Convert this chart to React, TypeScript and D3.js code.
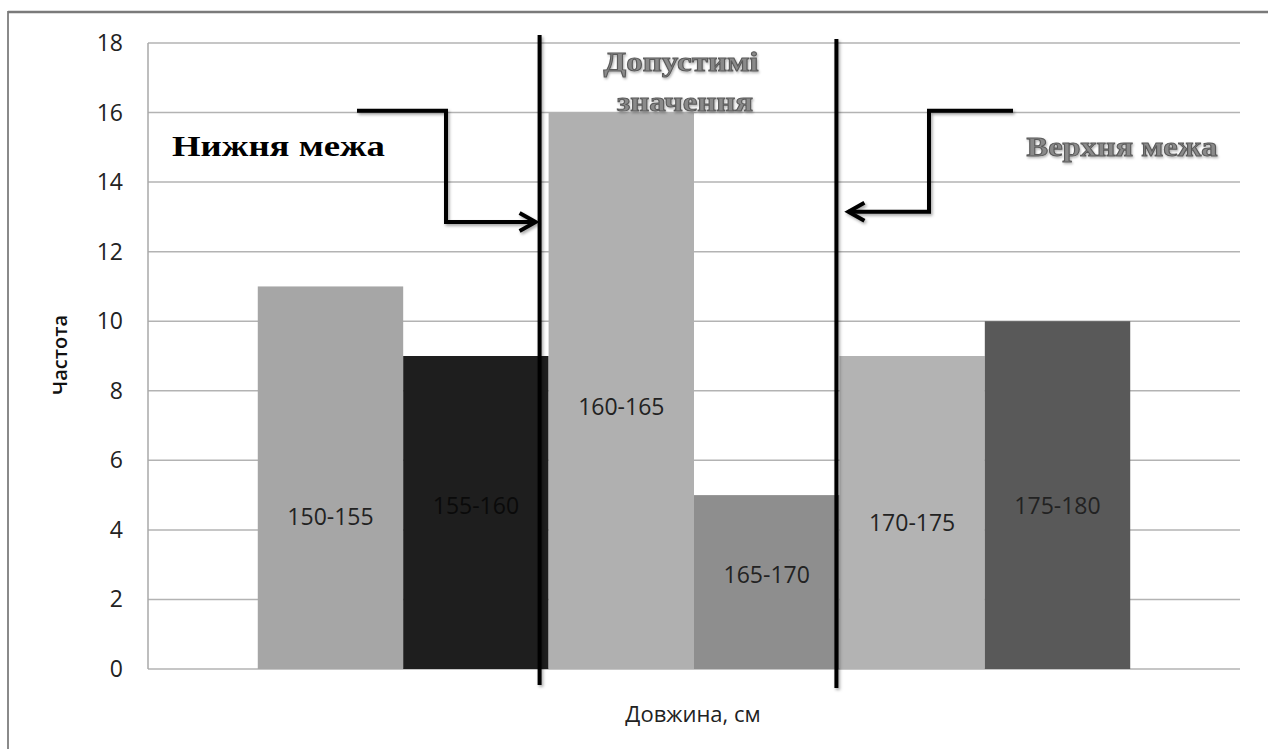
import React from "react";
import * as d3 from "d3";

// Height-interval classes (cm) and their frequencies
const intervals = ["150-155", "155-160", "160-165", "165-170", "170-175", "175-180"];
const frequencies = [11, 9, 16, 5, 9, 10];
const barColors = ["#a6a6a6", "#1e1e1e", "#b0b0b0", "#8e8e8e", "#b3b3b3", "#595959"];
// Level (in frequency units) at which each in-bar label is centred
const labelLevels = [4.37, 4.69, 7.53, 2.7, 4.2, 4.69];
const yTicks = [0, 2, 4, 6, 8, 10, 12, 14, 16, 18];

const W = 1268;
const H = 749;
const plot = { left: 148, right: 1240, top: 43, bottom: 669 };

const FONT = "'Open Sans', 'Noto Sans', sans-serif";
const SERIF = "'Liberation Serif', 'DejaVu Serif', serif";

export default function App() {
  const x = d3
    .scaleBand<string>()
    .domain(intervals)
    .range([plot.left, plot.right])
    .paddingInner(0)
    .paddingOuter(0.755);
  const y = d3.scaleLinear().domain([0, 18]).range([plot.bottom, plot.top]);

  // Boundary lines drawn around the acceptable class 160-165 / 165-170
  const lowerX = (x("160-165") as number) - 9;
  const upperX = (x("170-175") as number) - 3;

  const line = (pts: [number, number][]) => d3.line()(pts) as string;
  const leftArrow: [number, number][] = [
    [357, y(16.05)],
    [446, y(16.05)],
    [446, y(12.85)],
    [lowerX - 4, y(12.85)],
  ];
  const rightArrow: [number, number][] = [
    [1013, y(16.05)],
    [929, y(16.05)],
    [929, y(13.15)],
    [upperX + 12, y(13.15)],
  ];
  const headL = leftArrow[3];
  const headR = rightArrow[3];

  return (
    <svg
      width={W}
      height={H}
      style={{ position: "absolute", left: 0, top: 0, background: "#fff" }}
    >
      <defs>
        <filter id="shadow" filterUnits="userSpaceOnUse" x={0} y={0} width={W} height={H}>
          <feDropShadow dx="1.5" dy="2" stdDeviation="1.5" floodColor="#000" floodOpacity="0.35" />
        </filter>
        <filter id="textShadow" filterUnits="userSpaceOnUse" x={0} y={0} width={W} height={H}>
          <feDropShadow dx="1" dy="1.5" stdDeviation="1" floodColor="#000" floodOpacity="0.3" />
        </filter>
      </defs>

      {/* chart frame */}
      <rect x={8} y={12} width={1400} height={900} fill="none" stroke="#8a8a8a" strokeWidth={2} />
      <line x1={8} y1={12} x2={W} y2={12} stroke="#7a7a7a" strokeWidth={2.5} />

      {/* gridlines */}
      {yTicks.map((t) => (
        <line
          key={t}
          x1={plot.left}
          x2={plot.right}
          y1={y(t)}
          y2={y(t)}
          stroke="#b3b3b3"
          strokeWidth={1.5}
        />
      ))}
      <line x1={plot.left} x2={plot.left} y1={plot.top} y2={plot.bottom} stroke="#a8a8a8" strokeWidth={1.5} />

      {/* tick labels */}
      {yTicks.map((t) => (
        <text
          key={t}
          x={123}
          y={y(t)}
          dy="0.35em"
          textAnchor="end"
          fontFamily={FONT}
          fontSize={23}
          fill="#222"
        >
          {t}
        </text>
      ))}

      {/* bars */}
      {intervals.map((c, i) => (
        <rect
          key={c}
          x={x(c)}
          y={y(frequencies[i])}
          width={x.bandwidth()}
          height={y(0) - y(frequencies[i])}
          fill={barColors[i]}
        />
      ))}

      {/* in-bar class labels */}
      {intervals.map((c, i) => (
        <text
          key={c}
          x={(x(c) as number) + x.bandwidth() / 2}
          y={y(labelLevels[i])}
          dy="0.35em"
          textAnchor="middle"
          fontFamily={FONT}
          fontSize={23}
          fill={i === 1 ? "#0a0a0a" : "#222"}
        >
          {c}
        </text>
      ))}

      {/* boundary lines and arrows */}
      <g fill="none" stroke="#000" strokeWidth={4} strokeLinejoin="miter" filter="url(#shadow)">
        <path d={line([[lowerX, 35], [lowerX, 685]])} />
        <path d={line([[upperX, 39], [upperX, 688]])} />
        <path d={line(leftArrow)} />
        <path
          d={line([
            [headL[0] - 16, headL[1] - 9],
            [headL[0], headL[1]],
            [headL[0] - 16, headL[1] + 9],
          ])}
        />
        <path d={line(rightArrow)} />
        <path
          d={line([
            [headR[0] + 16, headR[1] - 9],
            [headR[0], headR[1]],
            [headR[0] + 16, headR[1] + 9],
          ])}
        />
      </g>

      {/* annotations */}
      <text
        x={172}
        y={145}
        dy="0.35em"
        fontFamily={SERIF}
        fontWeight="bold"
        fontSize={30}
        textLength={213}
        lengthAdjust="spacingAndGlyphs"
        fill="#000"
      >
        Нижня межа
      </text>
      <g
        fontFamily={SERIF}
        fontWeight="bold"
        fill="#8a8a8a"
        stroke="#5a5a5a"
        strokeWidth={1}
        textAnchor="middle"
        filter="url(#textShadow)"
      >
        <text x={681} y={61} dy="0.35em" fontSize={28} textLength={155} lengthAdjust="spacingAndGlyphs">
          Допустимі
        </text>
        <text x={685} y={101} dy="0.35em" fontSize={28} textLength={136} lengthAdjust="spacingAndGlyphs">
          значення
        </text>
        <text x={1122} y={146} dy="0.35em" fontSize={28} textLength={191} lengthAdjust="spacingAndGlyphs">
          Верхня межа
        </text>
      </g>

      {/* axis titles */}
      <text
        transform={`translate(60, 355) rotate(-90)`}
        textAnchor="middle"
        dy="0.35em"
        fontFamily={FONT}
        fontWeight={600}
        fontSize={20}
        fill="#111"
      >
        Частота
      </text>
      <text x={693} y={714} dy="0.35em" textAnchor="middle" fontFamily={FONT} fontSize={22} fill="#222">
        Довжина, см
      </text>
    </svg>
  );
}
